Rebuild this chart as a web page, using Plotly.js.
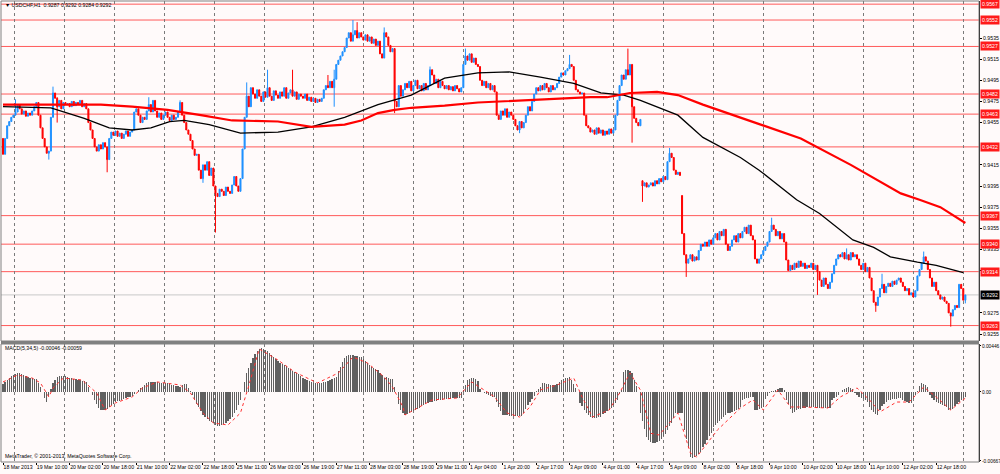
<!DOCTYPE html>
<html><head><meta charset="utf-8">
<script src="https://cdn.plot.ly/plotly-3.0.1.min.js"></script>
<style>html,body{margin:0;padding:0;background:#fffafa;}#chart{width:1000px;height:474px;}</style>
</head><body><div id="chart"></div>
<script>
// ---- data (prices in pips: 9470 = 0.9470) ----
const symbolName = 'USDCHF,H1';
const closes = [
9425,9440,9452,9456,9460,9462,9465,9472,9468,9463,9466,9461,9464,9462,9466,9470,9474,9462,9450,9440,9432,9426,9428,9460,9483,9478,9470,9476,9468,9474,9472,
9473,9470,9475,9471,9474,9472,9476,9470,9473,9468,9455,9448,9440,9432,9428,9434,9430,9436,9432,9420,9440,9446,9443,
9447,9442,9445,9440,9444,9447,9442,9446,9448,9465,9468,9462,9455,9460,9458,9466,9472,9465,9476,
9466,9460,9464,9458,9462,9465,9460,9457,9462,9458,9460,9465,9474,9462,9455,9448,9444,9438,9430,9424,9425,
9410,9402,9415,9410,9418,9405,9412,9395,9388,9385,9392,9390,9386,9394,9390,9388,9396,9404,9395,9390,9402,
9430,9460,9480,9470,9488,9482,9478,9486,9480,9475,9484,9479,9488,9480,9476,9485,9481,9478,
9484,9480,9488,9478,9483,9486,9480,9484,9477,9482,9480,9478,9482,9476,9479,9475,9478,9474,9477,9475,9478,
9486,9490,9488,9494,9488,9496,9510,9514,9518,9522,9526,9535,9540,9532,9538,9542,9535,9540,9536,
9533,9538,9532,9536,9530,9534,9528,9532,9520,9516,9540,9536,9528,9522,9525,9475,9470,
9490,9480,9486,9492,9488,9494,9485,9490,9495,9487,9490,9485,9492,9486,9490,9505,9500,
9492,9496,9488,9494,9490,9487,9490,9486,9489,9485,9490,9487,9484,9488,9510,9518,9514,
9520,9512,9516,9510,9508,9495,9490,9494,9488,9492,9486,9490,9484,9462,9458,
9466,9462,9468,9460,9465,9462,9458,9452,9448,9456,9450,9455,9462,9470,9466,9475,9482,9488,9485,9490,
9486,9492,9488,9484,9490,9486,9488,9492,9498,9502,9500,9504,9506,9510,9508,9495,9486,9484,9482,9483,
9462,9452,9450,9446,9448,9444,9450,9445,9448,9443,9447,9444,9449,9445,9448,9462,9476,
9490,9500,9496,9505,9500,9510,9470,9459,9455,9452,9458,
9395,9398,9394,9396,9398,9395,9400,9397,9402,9399,9404,9401,9418,9426,9422,9410,9406,9408,9405,
9350,9330,9322,9326,9330,9324,9328,9325,9334,9340,9338,9342,9338,9344,9340,
9346,9350,9344,9352,9348,9354,9340,9334,9338,9344,9348,9342,9350,9346,9352,9356,9350,9358,
9348,9344,9326,9322,9326,9330,9334,9338,9342,9352,9358,9354,9348,9352,9345,9350,9342,9325,9315,
9320,9316,9322,9318,9324,9319,9322,9317,9320,9318,9322,9316,9320,9314,
9306,9300,9308,9302,9298,9304,9312,9320,9326,9330,9328,9332,9326,9330,9325,9332,9328,9330,9326,
9320,9316,9322,9314,9318,9308,9296,9285,9282,9290,9298,9302,9294,9300,
9303,9300,9305,9302,9306,9308,9304,9300,9296,9298,9292,9294,9290,9296,9310,9316,9322,9328,9324,
9316,9308,9300,9304,9296,9292,9288,9290,9286,9284,9275,9272,9278,9282,9280,9302,9298,9287,9292
];
// bars whose open differs from the previous close (session gaps)
const gapIdx = [0, 307, 326];
const gapOpen = [9440, 9400, 9386];
// visible wick extremes
const spikeIdx = [6,22,24,26,50,70,85,96,102,117,127,139,156,159,168,170,183,188,205,222,248,272,300,302,307,320,328,369,391,405,419,422,442,455,462];
const spikeHi = [9477,null,9489,9479,null,9479,9476,null,null,9493,9505,9505,9500,9505,9552,9550,9545,null,9508,9525,null,9519,9525,null,null,9431,null,9365,null,9336,null,9312,9333,null,9292];
const spikeLo = [null,9420,null,9455,9408,null,null,9398,9351,null,null,null,null,9470,null,null,null,9464,null,null,9445,null,null,9436,9380,null,9309,null,9292,null,9276,null,null,9262,9284];

// moving averages (bar index, pips)
const blackIdx = [0,23,39,51,62,71,80,87,99,114,132,148,164,180,196,212,228,243,258,274,287,298,306,324,336,354,363,373,381,392,402,408,418,426,439,448,461];
const blackVal = [9470,9469,9459,9450,9448,9450,9456,9457,9453,9445,9446,9451,9460,9472,9481,9497,9502,9503,9498,9492,9483,9481,9476,9462,9441,9422,9410,9394,9382,9369,9353,9344,9337,9328,9323,9320,9313];
const redIdx = [0,7,23,47,62,79,95,110,132,148,164,172,180,188,196,212,228,250,266,282,290,301,314,324,336,354,383,407,431,440,450,462];
const redVal = [9472,9472,9472,9472,9470,9467,9462,9457,9456,9451,9453,9457,9464,9467,9469,9471,9474,9476,9478,9479,9479,9483,9484,9481,9472,9460,9440,9415,9388,9382,9375,9360];

// MACD(5,34,5) histogram, units of 0.00001
const macd = [
80,100,120,140,155,165,175,184,180,170,160,150,145,140,135,130,125,90,50,0,-60,-100,-40,30,87,120,145,
150,155,155,150,145,140,135,130,125,120,115,110,105,100,50,0,-30,-80,-120,-150,-170,-174,-170,-160,-145,-130,-116,
-100,-90,-85,-80,-70,-60,-50,-45,-39,-20,0,20,35,48,70,85,95,97,97,95,93,90,90,88,87,85,
75,70,65,60,55,50,70,80,75,40,10,-30,-80,-120,-145,-180,-220,-240,-260,-280,-290,-300,-320,-330,-330,
-320,-310,-300,-280,-260,-240,-200,-170,-130,-80,0,100,184,230,280,330,370,400,420,425,
420,410,395,380,360,340,320,300,280,270,260,250,235,220,205,193,184,170,155,140,125,115,105,97,
90,87,85,87,90,93,97,105,116,125,135,145,200,242,290,329,345,355,358,355,350,345,340,338,
320,300,280,260,245,230,220,213,184,160,140,145,140,130,126,50,0,-120,-174,-200,-222,-215,
-200,-190,-180,-170,-160,-150,-140,-125,-115,-106,
-100,-95,-90,-85,-80,-77,-75,-72,-70,-68,-65,-62,-60,-58,-58,-55,20,70,116,130,135,135,130,110,30,0,-10,
-20,-30,-40,-48,-48,-100,-145,-180,-222,-225,-225,-228,-230,-230,-232,-232,-232,-230,-200,
-165,-130,-100,-70,-40,5,30,50,87,85,80,75,70,68,70,80,100,116,125,135,140,145,116,80,40,0,
-106,-140,-170,-200,-220,-242,-250,-250,-250,-245,-240,-212,-200,-185,-170,-150,-130,-110,-80,-20,20,
190,213,210,200,184,120,60,0,-203,-280,-360,-435,-464,-480,-493,-490,-480,-470,-450,-430,-406,
-370,-330,-300,-250,-203,-200,-203,-203,-367,-450,-540,-628,-638,-630,-620,-600,-580,
-532,-500,-460,-430,-396,-338,-320,-300,-280,-260,-242,-220,-203,-200,-190,-180,-174,-160,-145,
-77,-70,-60,-55,-50,-48,-174,-170,-160,-150,-145,-70,-40,-10,5,10,20,30,40,35,20,-77,-120,-160,-203,
-190,-174,-165,-160,-155,-150,-145,-145,-145,-148,-150,-150,-150,-150,-150,-150,-150,-150,
-77,-60,-45,-30,0,20,30,40,48,40,30,-10,-30,-45,-60,-70,-77,-100,-145,-170,-195,-210,-222,
-170,-140,-120,-100,-77,-75,-72,-70,-65,-62,-60,-77,-90,-100,-110,-110,-70,-30,10,60,
87,80,65,50,-30,-60,-80,-100,-110,-120,-130,-140,-145,-170,-170,-165,-140,-120,-100,-80,-60,-46
];
const sigIdx = [0,7,14,18,22,24,29,38,45,49,54,62,67,74,85,90,96,101,108,114,118,120,123,132,140,151,161,168,175,183,187,192,193,199,206,218,225,231,236,242,248,253,258,266,274,278,283,291,296,301,306,311,315,324,330,333,343,354,360,365,372,378,384,396,402,410,416,421,429,435,442,448,455,462];
const sigVal = [97,164,135,87,-48,39,135,116,-10,-174,-106,-48,39,97,68,-10,-203,-300,-319,-203,60,213,416,309,193,87,184,338,280,145,48,-145,-222,-155,-77,-58,97,19,-48,-203,-242,-145,19,68,135,-48,-242,-174,-10,184,19,-400,-416,-203,-590,-629,-367,-155,-77,-174,19,-145,-145,-155,-48,39,-77,-193,-97,-97,48,-48,-174,-59];

// horizontal levels and axis ticks (ticks hidden behind level labels left out)
const levels = [0.9567,0.9552,0.9527,0.9482,0.9463,0.9432,0.9367,0.9340,0.9314,0.9263];
const priceTicks = [0.9255,0.9275,0.9315,0.9335,0.9355,0.9375,0.9395,0.9415,0.9455,0.9475,0.9495,0.9515,0.9535];
const macdTicks = [0.00446, 0, -0.00667];
const macdTickText = ['0.00446','0.00','-0.00667'];
const timeLabels = ['18 Mar 2013','19 Mar 10:00','20 Mar 02:00','20 Mar 18:00','21 Mar 10:00','22 Mar 02:00','22 Mar 18:00','25 Mar 11:00','26 Mar 03:00','26 Mar 19:00','27 Mar 11:00','28 Mar 03:00','28 Mar 19:00','29 Mar 11:00','1 Apr 04:00','1 Apr 20:00','2 Apr 17:00','3 Apr 09:00','4 Apr 01:00','4 Apr 17:00','5 Apr 09:00','8 Apr 02:00','8 Apr 18:00','9 Apr 10:00','10 Apr 02:00','10 Apr 18:00','11 Apr 10:00','12 Apr 02:00','12 Apr 18:00'];
const labelStep = 16;

// ---- build ----
const P = v => v / 10000;
const N = closes.length;
const xs = closes.map((_, i) => i);
const opens = closes.map((c, i) => i === 0 ? c : closes[i - 1]);
gapIdx.forEach((g, k) => { opens[g] = gapOpen[k]; });
const highs = closes.map((c, i) => Math.max(c, opens[i]));
const lows = closes.map((c, i) => Math.min(c, opens[i]));
spikeIdx.forEach((s, k) => {
  if (s >= N) return;
  if (spikeHi[k] != null) highs[s] = Math.max(highs[s], spikeHi[k]);
  if (spikeLo[k] != null) lows[s] = Math.min(lows[s], spikeLo[k]);
});
const last = N - 1;

const W = 1000, H = 474, ML = 1, MR = 21, MT = 1, MB = 12;
const pw = W - ML - MR, ph = H - MT - MB;
const px = x => (x - ML) / pw;
const py = y => (H - MB - y) / ph;
const mainDom = [py(341), 1];
const macdDom = [0, py(344)];
const FONT = 'Liberation Sans, Arial, sans-serif';
const FS = 5.2;

const traces = [
  {type:'candlestick', x: xs, open: opens.map(P), high: highs.map(P), low: lows.map(P), close: closes.map(P),
   xaxis:'x', yaxis:'y', whiskerwidth: 0, hoverinfo:'skip',
   increasing:{line:{color:'#1e90ff', width:1}, fillcolor:'#1e90ff'},
   decreasing:{line:{color:'#ff0000', width:1}, fillcolor:'#ff0000'}},
  {type:'scatter', mode:'lines', x: blackIdx, y: blackVal.map(P), xaxis:'x', yaxis:'y',
   line:{color:'#000000', width:1.3}, hoverinfo:'skip'},
  {type:'scatter', mode:'lines', x: redIdx, y: redVal.map(P), xaxis:'x', yaxis:'y',
   line:{color:'#ff0000', width:2.2}, hoverinfo:'skip'},
  {type:'bar', x: xs.slice(0, macd.length), y: macd.map(v => v / 100000), xaxis:'x', yaxis:'y2',
   width: 0.6, marker:{color:'#606060', line:{width:0}}, hoverinfo:'skip'},
  {type:'scatter', mode:'lines', x: sigIdx, y: sigVal.map(v => v / 100000), xaxis:'x', yaxis:'y2',
   line:{color:'#ff3030', width:1, dash:'dot'}, hoverinfo:'skip'}
];

const shapes = [];
levels.forEach(lv => shapes.push({type:'line', xref:'paper', x0:0, x1:1, yref:'y', y0:lv, y1:lv,
  line:{color:'rgba(255,50,50,0.8)', width:1}, layer:'below'}));
shapes.push({type:'line', xref:'paper', x0:0, x1:1, yref:'y', y0:P(closes[last]), y1:P(closes[last]),
  line:{color:'#c8c8c8', width:1}, layer:'below'});
shapes.push({type:'rect', xref:'paper', yref:'paper', x0:0, x1:1, y0:mainDom[0], y1:1, line:{color:'#808080', width:1}});
shapes.push({type:'rect', xref:'paper', yref:'paper', x0:0, x1:1, y0:0, y1:macdDom[1], line:{color:'#808080', width:1}});
shapes.push({type:'line', xref:'paper', yref:'paper', x0:0, x1:1, y0:py(342.5), y1:py(342.5), line:{color:'#808080', width:3}});

const fmt4 = v => P(v).toFixed(4);
const annotations = [];
levels.forEach(lv => annotations.push({xref:'paper', x:1, xanchor:'left', xshift:1, yref:'y', y:lv, yanchor:'middle',
  text: lv.toFixed(4), showarrow:false, bgcolor:'#ff1a1a', borderpad:1, font:{color:'#ffffff', size:FS}}));
annotations.push({xref:'paper', x:1, xanchor:'left', xshift:1, yref:'y', y:P(closes[last]), yanchor:'middle',
  text: fmt4(closes[last]), showarrow:false, bgcolor:'#000000', borderpad:1, font:{color:'#ffffff', size:FS}});
annotations.push({xref:'paper', yref:'paper', x:px(3), y:py(5), xanchor:'left', yanchor:'middle', showarrow:false,
  text: '\u25BC ' + symbolName + '  ' + fmt4(opens[last]) + ' ' + fmt4(highs[last]) + ' ' + fmt4(lows[last]) + ' ' + fmt4(closes[last]),
  font:{size:FS, color:'#000'}});
annotations.push({xref:'paper', yref:'paper', x:px(3), y:py(348), xanchor:'left', yanchor:'middle', showarrow:false,
  text: 'MACD(5,34,5) ' + (macd[macd.length - 1] / 100000).toFixed(5) + ' ' + (sigVal[sigVal.length - 1] / 100000).toFixed(5),
  font:{size:FS, color:'#000'}});
annotations.push({xref:'paper', yref:'paper', x:px(3), y:py(456), xanchor:'left', yanchor:'middle', showarrow:false,
  text: 'MetaTrader, \u00A9 2001-2013, MetaQuotes Software Corp.', font:{size:FS, color:'#000'}});

const tickIdx = timeLabels.map((_, k) => k * labelStep);
const x0 = -0.96, x1 = x0 + pw / 2.083;

const layout = {
  width: W, height: H, margin:{l:ML, r:MR, t:MT, b:MB, pad:0},
  paper_bgcolor:'#fffafa', plot_bgcolor:'#fffafa', showlegend:false,
  font:{family:FONT, size:FS, color:'#000'},
  xaxis:{range:[x0, x1], anchor:'y2', tickmode:'array', tickvals: tickIdx, ticktext: timeLabels, tickangle:0,
    ticks:'outside', ticklen:2, tickcolor:'#000', showgrid:false, zeroline:false, showline:false,
    ticklabelposition:'outside right', tickfont:{size:FS}, rangeslider:{visible:false}, fixedrange:true,
    minor:{tickmode:'linear', tick0:5.3, dtick:24, showgrid:true, gridcolor:'#7a7a7a', griddash:'dot', gridwidth:1, ticks:''}},
  yaxis:{domain: mainDom, range:[0.92484, 0.95700], side:'right', tickmode:'array', tickvals: priceTicks,
    ticktext: priceTicks.map(v => v.toFixed(4)), ticks:'outside', ticklen:2, tickcolor:'#000', tickfont:{size:FS},
    showgrid:false, zeroline:false, showline:true, linecolor:'#000', linewidth:1, fixedrange:true},
  yaxis2:{domain: macdDom, range:[-0.00677, 0.00464], side:'right', tickmode:'array', tickvals: macdTicks,
    ticktext: macdTickText, ticks:'outside', ticklen:1, tickcolor:'#000', tickfont:{size:4.8},
    showgrid:false, zeroline:false, showline:true, linecolor:'#000', linewidth:1, fixedrange:true},
  shapes: shapes, annotations: annotations, bargap:0
};

Plotly.newPlot('chart', traces, layout, {staticPlot:true, displayModeBar:false});
</script>
</body></html>
